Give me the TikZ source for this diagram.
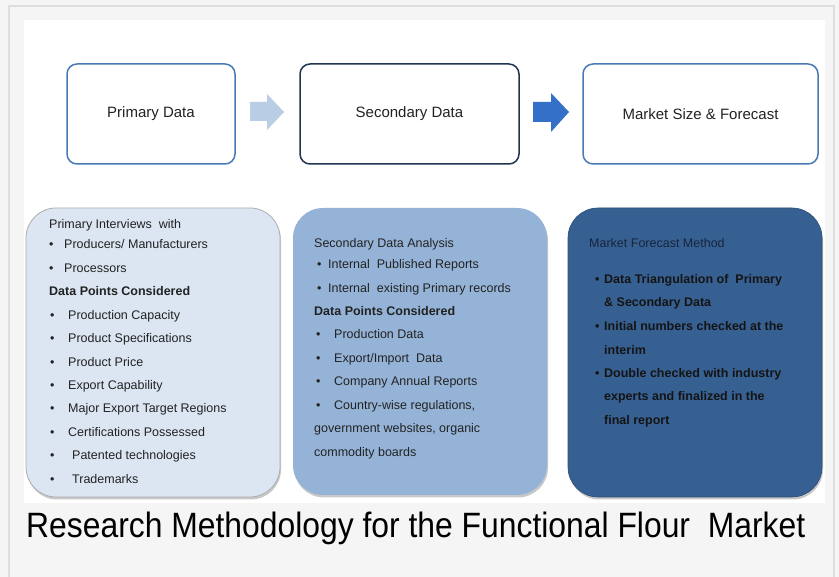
\documentclass[tikz,border=0pt]{standalone}
\usepackage{fontspec}
\setmainfont{Liberation Sans}
\usetikzlibrary{shadows}
\definecolor{bgc}{HTML}{F5F5F5}
\definecolor{framec}{HTML}{DEDEDE}
\definecolor{txtc}{HTML}{222222}
\definecolor{lightbord}{HTML}{4A7AB5}
\definecolor{darkbord}{HTML}{1F3550}
\definecolor{boxa}{HTML}{DCE6F2}
\definecolor{boxb}{HTML}{95B3D7}
\definecolor{boxc}{HTML}{376092}
\definecolor{arrl}{HTML}{B9CDE5}
\definecolor{arrd}{HTML}{3570C8}
\definecolor{hdrc}{HTML}{17243A}
\tikzset{
  topbox/.style={draw, line width=1.5pt, rounded corners=10pt, fill=white,
    minimum height=100pt, inner sep=0pt, text=txtc, font=\fontsize{15}{17}\selectfont},
  lowbox/.style={rounded corners=30pt, minimum width=254pt, inner sep=0pt,
    drop shadow={shadow xshift=1pt, shadow yshift=-2.5pt, opacity=0.3, fill=black!70}},
  txt/.style={inner sep=0pt, anchor=base west, text=txtc, font=\fontsize{12.5}{14}\selectfont},
  btxt/.style={txt, font=\fontsize{12.5}{14}\selectfont\bfseries},
}
\newcommand{\bul}[1]{\makebox[#1pt][l]{\textbullet}}
\begin{document}
\begin{tikzpicture}[x=1pt,y=-1pt]
\useasboundingbox (0,0) rectangle (839,577);
\fill[bgc] (0,0) rectangle (839,577);
\draw[framec, line width=2pt] (9,600) -- (9,6) -- (834,6) -- (834,600);
\fill[white] (24,20) rectangle (825,503);

% top boxes
\node[topbox, draw=lightbord, minimum width=168pt] (pd) at (151,114) {Primary Data};
\node[topbox, draw=darkbord, minimum width=219pt] (sd) at (409.5,114) {Secondary Data};
\node[topbox, draw=lightbord, minimum width=235pt] (ms) at (700.5,114) {Market Size \& Forecast};

% block arrows
\fill[arrl] (250,102) -- (267,102) -- (267,94) -- (284,112) -- (267,130) -- (267,121) -- (250,121) -- cycle;
\fill[arrd] (533,102) -- (551,102) -- (551,93) -- (569,112) -- (551,132) -- (551,122) -- (533,122) -- cycle;

% lower boxes
\node[lowbox, fill=boxa, draw=black!32, line width=0.8pt, minimum height=289pt] (b1) at (153,352.5) {};
\node[lowbox, fill=boxb, minimum height=287pt] (b2) at (420,351.5) {};
\node[lowbox, fill=boxc, draw=boxc!80!black, line width=0.6pt, minimum height=289pt] (b3) at (695,352.5) {};

% box 1 text
\node[txt] (a1) at (49,228.5) {Primary Interviews\ \ with};
\node[txt] (a2) at (49,248.5) {\bul{15}Producers/ Manufacturers};
\node[txt] (a3) at (49,272.5) {\bul{15}Processors};
\node[btxt] (a4) at (49,295.5) {Data Points Considered};
\node[txt] (a5) at (50,319.5) {\bul{18}Production Capacity};
\node[txt] (a6) at (50,342.5) {\bul{18}Product Specifications};
\node[txt] (a7) at (50,366.5) {\bul{18}Product Price};
\node[txt] (a8) at (50,389.5) {\bul{18}Export Capability};
\node[txt] (a9) at (50,412.5) {\bul{18}Major Export Target Regions};
\node[txt] (a10) at (50,436.5) {\bul{18}Certifications Possessed};
\node[txt] (a11) at (50,459.5) {\bul{22}Patented technologies};
\node[txt] (a12) at (50,483.5) {\bul{22}Trademarks};

% box 2 text
\node[txt] (s1) at (314,247.5) {Secondary Data Analysis};
\node[txt] (s2) at (317,268.5) {\bul{11}Internal\ \ Published Reports};
\node[txt] (s3) at (317,292.5) {\bul{11}Internal\ \ existing Primary records};
\node[btxt] (s4) at (314,315.5) {Data Points Considered};
\node[txt] (s5) at (316,338.5) {\bul{18}Production Data};
\node[txt] (s6) at (316,362.5) {\bul{18}Export/Import\ \ Data};
\node[txt] (s7) at (316,385.5) {\bul{18}Company Annual Reports};
\node[txt] (s8) at (316,409.5) {\bul{18}Country-wise regulations,};
\node[txt] (s9) at (314,432.5) {government websites, organic};
\node[txt] (s10) at (314,456.5) {commodity boards};

% box 3 text
\node[txt, text=hdrc] (m1) at (589,247.5) {Market Forecast Method};
\node[btxt, text=black!92] (m2) at (595,283.5) {\bul{9}Data Triangulation of\ \ Primary};
\node[btxt, text=black!92] (m3) at (604,306.5) {\& Secondary Data};
\node[btxt, text=black!92] (m4) at (595,330.5) {\bul{9}Initial numbers checked at the};
\node[btxt, text=black!92] (m5) at (604,354.5) {interim};
\node[btxt, text=black!92] (m6) at (595,377.5) {\bul{9}Double checked with industry};
\node[btxt, text=black!92] (m7) at (604,400.5) {experts and finalized in the};
\node[btxt, text=black!92] (m8) at (604,424.5) {final report};

% caption
\node[inner sep=0pt, anchor=base west, text=black] (cap) at (26,538)
  {\resizebox{779pt}{25.5pt}{\fontsize{30}{32}\selectfont Research Methodology for the Functional Flour\ \ Market}};
\end{tikzpicture}
\end{document}
